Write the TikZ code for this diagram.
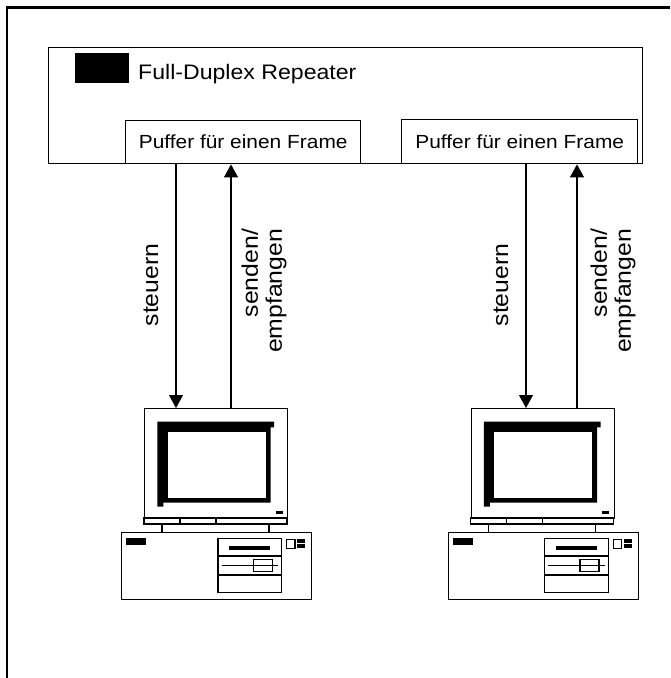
\documentclass[tikz,border=0pt]{standalone}
\usepackage{fontspec}
\setmainfont{Liberation Sans}[FakeStretch=1.1]
\usetikzlibrary{arrows.meta}

\tikzset{
  frameline/.style={line width=2.5pt},
  boxline/.style={draw, line width=1.4pt, inner sep=0pt, anchor=north west},
  arr/.style={line width=1.2pt, -{Triangle[width=14pt,length=13pt]}},
  vlabel/.style={rotate=90, inner sep=0pt, font=\fontsize{22.5}{24}\selectfont},
  blk/.style={fill=black, draw=none},
  pcline/.style={line width=1.4pt},
  % personal computer: monitor on top of a desktop case, origin at the monitor's top left corner
  computer/.pic={
    \node[boxline, line width=1.4pt, minimum width=143pt, minimum height=110pt] (-mon) at (0,0) {};
    % screen with its heavy bezel
    \fill (13.3,13.7) -- (130,13.7) -- (130,19.3) -- (126.7,19.3) -- (126.7,94.7)
          -- (19.3,94.7) -- (19.3,98.7) -- (13.3,98.7) -- cycle;
    \fill[white] (23.7,23.7) rectangle (121.7,89.7);
    \fill (131.7,102.7) rectangle (138.7,106);
    % stand
    \draw[pcline] (0,110) rectangle (143,116);
    \draw[pcline] (36,110) -- (36,116) (72,110) -- (72,116);
    \draw[pcline] (18,116) -- (18,124) (125,116) -- (125,124);
    % case
    \node[boxline, line width=1.4pt, minimum width=190pt, minimum height=67pt] (-case) at (-23,124) {};
    \fill (-18,130.3) rectangle (2,137.3);
    \draw[pcline] (74,130.3) rectangle (137.7,184.3);
    \draw[pcline] (74,148) -- (137.7,148) (74,167) -- (137.7,167);
    \fill (85.3,138) rectangle (126,142.3);
    \draw[pcline] (77.7,157.7) -- (134.3,157.7);
    \draw[pcline] (109.3,151.3) rectangle (128.3,163.7);
    \draw[line width=1.2pt] (142.7,131.3) rectangle (151,140.3);
    \fill (153.3,131.3) rectangle (161,135.3);
    \fill (153.3,136.3) rectangle (161,140.3);
  }
}

\begin{document}
\begin{tikzpicture}[x=1pt, y=-1pt]
\useasboundingbox (0,0) rectangle (670,678);

% open outer frame (top and left edges only)
\draw[frameline] (7,678) -- (7,7.5) -- (670,7.5);

% repeater with its two frame buffers
\node[boxline, minimum width=594pt, minimum height=116pt] (rep) at (48,47) {};
\fill (75,53) rectangle (129,83);
\node[anchor=base west, inner sep=0pt, font=\fontsize{21}{23}\selectfont] (title) at (138,79) {Full-Duplex Repeater};

\node[boxline, minimum width=235pt, minimum height=43pt, font=\fontsize{19}{21}\selectfont] (bufL) at (125,120) {Puffer für einen Frame};
\node[boxline, minimum width=236pt, minimum height=44pt, font=\fontsize{19}{21}\selectfont] (bufR) at (401,119) {Puffer für einen Frame};

% the two stations
\pic (pcL) at (144,408) {computer};
\pic (pcR) at (470.5,408) {computer};

% line positions of the connections
\coordinate (xL1) at (176,0);
\coordinate (xL2) at (231,0);
\coordinate (xR1) at (526,0);
\coordinate (xR2) at (577,0);

\draw[arr] (bufL.south -| xL1) -- (pcL-mon.north -| xL1);
\draw[arr] (pcL-mon.north -| xL2) -- (bufL.south -| xL2);
\draw[arr] (bufR.south -| xR1) -- (pcR-mon.north -| xR1);
\draw[arr] (pcR-mon.north -| xR2) -- (bufR.south -| xR2);

% connection labels
\node[vlabel] (lL1) at (151,285) {steuern};
\node[vlabel, align=right] (lL2) at (264,291) {senden/\\empfangen};
\node[vlabel] (lR1) at (501,285) {steuern};
\node[vlabel, align=right] (lR2) at (613,291) {senden/\\empfangen};
\end{tikzpicture}
\end{document}
